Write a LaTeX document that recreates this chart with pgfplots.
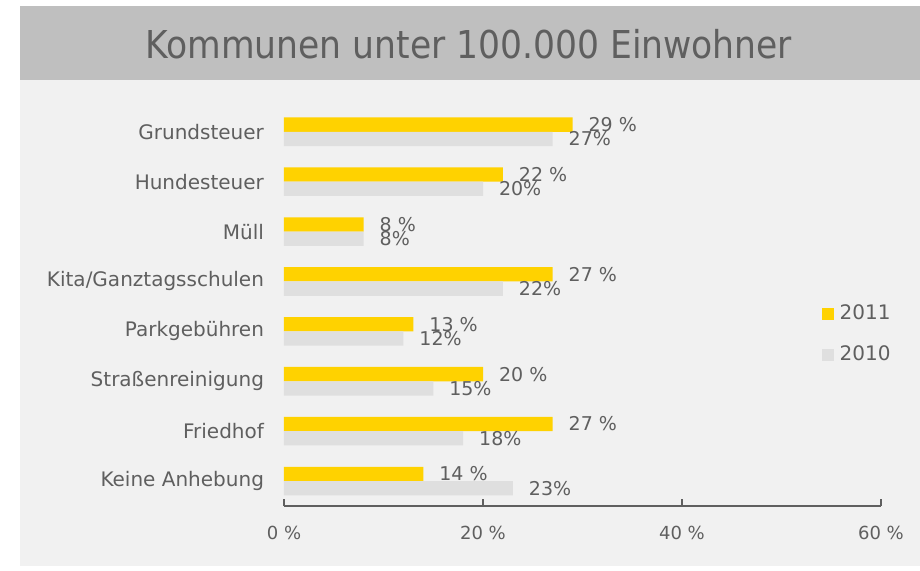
\documentclass[border=0pt]{standalone}
\usepackage{pgfplots}
\pgfplotsset{compat=1.18}
\usepackage{fontspec}
\setmainfont{DejaVu Sans}
\newfontfamily\condfont{DejaVu Sans Condensed}
\definecolor{ey}{RGB}{255,210,0}
\definecolor{barten}{RGB}{223,223,223}
\definecolor{txt}{RGB}{95,95,95}
\definecolor{band}{RGB}{191,191,191}
\definecolor{bg}{RGB}{241,241,241}
\pgfplotsset{/pgf/number format/assume math mode=true}
\begin{document}
\begin{tikzpicture}
\fill[white] (0pt,0pt) rectangle (460pt,-285pt);
\fill[band] (10pt,-3pt) rectangle (460pt,-40pt);
\fill[bg] (10pt,-40pt) rectangle (460pt,-283pt);
\node[text=txt, font=\condfont\fontsize{19.2}{22}\selectfont] at (234.5pt,-22.3pt) {Kommunen unter 100.000 Einwohner};
\begin{axis}[
 at={(142pt,-253pt)}, anchor=south west,
 scale only axis, width=298.5pt, height=199.6pt,
 xmin=0, xmax=60, ymin=-0.5, ymax=7.5,
 xbar, bar width=7.15pt, bar shift=0pt,
 clip=false,
 axis x line=bottom, axis y line=left,
 axis line style={-, draw=txt, line width=0.8pt},
 y axis line style={draw=none},
 xtick={0,20,40,60},
 xticklabel={\pgfmathprintnumber{\tick}~\%},
 tick align=inside, major tick length=3.5pt,
 x tick style={draw=txt, line width=0.8pt},
 ytick={0,1,2,3,4,5,6,7},
 yticklabels={Keine Anhebung,Friedhof,Straßenreinigung,Parkgebühren,Kita/Ganztagsschulen,Müll,Hundesteuer,Grundsteuer},
 y tick style={draw=none},
 yticklabel style={font=\fontsize{10}{12}\selectfont, text=txt, xshift=-6.5pt},
 xticklabel style={font=\fontsize{9}{11}\selectfont, text=txt, yshift=-6.5pt},
 point meta=x,
 nodes near coords={\pgfmathprintnumber{\pgfplotspointmeta}~\%},
 nodes near coords style={anchor=west, font=\fontsize{9.5}{11}\selectfont, text=txt, xshift=4.5pt},
 legend style={at={(axis description cs:0.9,0.515)}, anchor=north west, draw=none, fill=none, font=\fontsize{10}{12}\selectfont, text=txt, row sep=7.5pt, inner sep=0pt},
 legend cell align=left,
]
\addplot[fill=ey, draw=none, legend image code/.code={\fill[ey] (0pt,-3pt) rectangle (6pt,3pt); \path (7pt,0pt);}] coordinates {
(29,7.1435) (22,6.1435) (8,5.1435) (27,4.1435) (13,3.1435) (20,2.1435) (27,1.1435) (14,0.1435)};
\addplot[fill=barten, draw=none, nodes near coords={\pgfmathprintnumber{\pgfplotspointmeta}\%}, legend image code/.code={\fill[barten] (0pt,-3pt) rectangle (6pt,3pt); \path (7pt,0pt);}] coordinates {
(27,6.8565) (20,5.8565) (8,4.8565) (22,3.8565) (12,2.8565) (15,1.8565) (18,0.8565) (23,-0.1435)};
\legend{2011,2010}
\end{axis}
\end{tikzpicture}
\end{document}
